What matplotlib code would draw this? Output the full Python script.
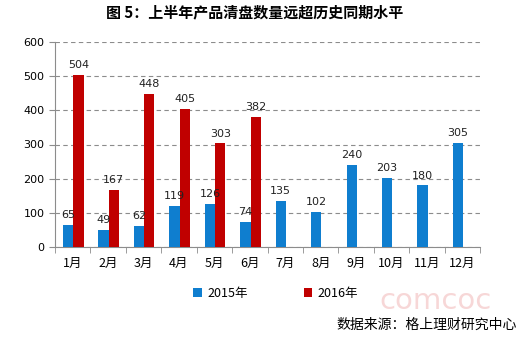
import numpy as np
import matplotlib.pyplot as plt

plt.rcParams['font.family'] = ['Noto Sans CJK SC', 'DejaVu Sans']

months = ['1月', '2月', '3月', '4月', '5月', '6月', '7月', '8月', '9月', '10月', '11月', '12月']
y2015 = [65, 49, 62, 119, 126, 74, 135, 102, 240, 203, 180, 305]
y2016 = [504, 167, 448, 405, 303, 382]

blue = '#0F7ECF'
red = '#C00000'

fig = plt.figure(figsize=(5.22, 3.4), dpi=100)
ax = fig.add_axes([0.105, 0.274, 0.815, 0.602])

x = np.arange(len(months))
w = 0.29
b1 = ax.bar(x - w / 2 + 0.02, y2015, w, color=blue, label='2015年', zorder=3)
b2 = ax.bar(x[:len(y2016)] + w / 2 + 0.02, y2016, w, color=red, label='2016年', zorder=3)

for bars, vals in ((b1, y2015), (b2, y2016)):
    for r, v in zip(bars, vals):
        ax.text(r.get_x() + r.get_width() / 2, v + 14, str(v), ha='center', va='bottom',
                fontsize=8, family='DejaVu Sans', color='#222222', zorder=4)

ax.set_xlim(-0.5, len(months) - 0.5)
ax.set_ylim(0, 600)
ax.set_yticks(range(0, 601, 100))
ax.yaxis.grid(True, linestyle=(0, (4, 3)), color='#8c8c8c', linewidth=0.8, zorder=0)
ax.set_xticks(x)
ax.set_xticklabels(months, fontsize=9)
ax.set_xticks(np.arange(-0.5, len(months)), minor=True)
ax.tick_params(axis='x', which='major', length=0, pad=7)
ax.tick_params(axis='x', which='minor', length=4, color='#8c8c8c')
ax.tick_params(axis='y', length=4, color='#8c8c8c', labelsize=8)
for t in ax.get_yticklabels():
    t.set_family('DejaVu Sans')
for s in ['top', 'right']:
    ax.spines[s].set_visible(False)
ax.spines['left'].set_color('#8c8c8c')
ax.spines['bottom'].set_color('#8c8c8c')

fig.text(0.487, 0.964, '图 5：上半年产品清盘数量远超历史同期水平', ha='center', va='center',
         fontsize=10.8, fontweight='bold')

fig.legend(handles=[b1, b2], loc='center', bbox_to_anchor=(0.528, 0.138), ncol=2,
           frameon=False, fontsize=9, handlelength=0.7, handleheight=0.7,
           columnspacing=4.5, handletextpad=0.4)

fig.text(0.835, 0.115, 'comcoc', ha='center', va='center', fontsize=21, color='#F2BDBD',
         alpha=0.6, family='DejaVu Sans')
fig.text(0.99, 0.045, '数据来源：格上理财研究中心', ha='right', va='center', fontsize=10)

fig.savefig('out.png', dpi=100)
